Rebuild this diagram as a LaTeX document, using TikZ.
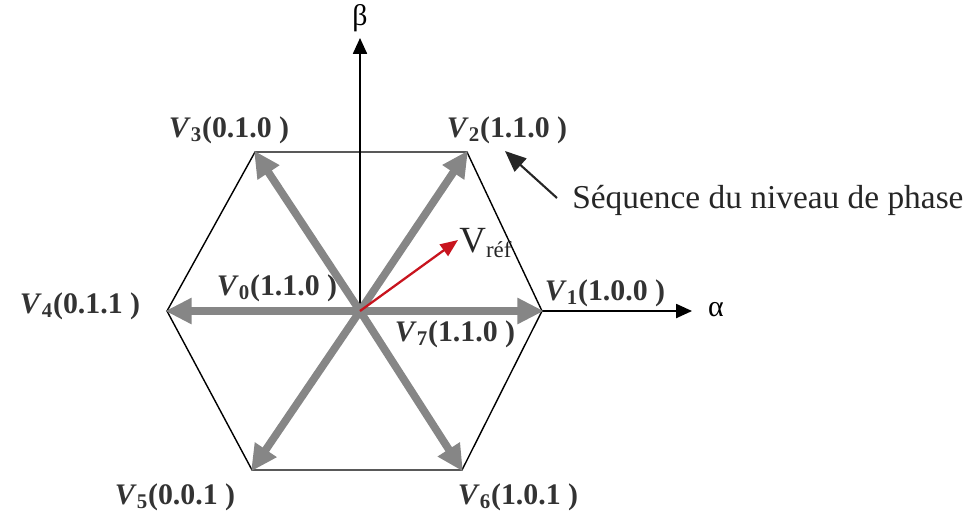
\documentclass[tikz,border=0pt]{standalone}
\usepackage{fontspec}
\setmainfont{Liberation Serif}
\usetikzlibrary{arrows.meta}
\tikzset{
  vlab/.style={inner sep=0pt, font=\fontsize{17}{19}\selectfont\bfseries, text=black!80},
  vec/.style={draw=gray!95, line width=4.4pt, -{Triangle[length=15pt,width=14pt]}, shorten >=-1pt},
  axis/.style={draw=black, line width=0.9pt, -{Triangle[length=9pt,width=8pt]}},
  hexedge/.style={draw=black, line width=0.8pt},
}
\newcommand{\lab}[2]{\textit{V}\textsubscript{#1}(#2 )}
\begin{document}
\begin{tikzpicture}[x=0.02cm,y=-0.02cm]
\useasboundingbox (0,0) rectangle (976,522);
% hexagon vertices
\coordinate (O) at (360,311);
\coordinate (P1) at (542,311);
\coordinate (P2) at (467,152);
\coordinate (P3) at (255,152);
\coordinate (P4) at (167,311);
\coordinate (P5) at (252,470);
\coordinate (P6) at (462,470);
\coordinate (Atip) at (692,311);
\coordinate (Btip) at (360,38);
\coordinate (R) at (458,240);
\coordinate (Ntail) at (557,198);
\coordinate (Ntip) at (505,151);
% hexagon
\draw[hexedge] (P1) -- (P2) -- (P3) -- (P4) -- (P5) -- (P6) -- cycle;
% axes
\draw[axis] (O) -- (Atip);
\draw[axis] (O) -- (Btip);
% space vectors
\foreach \p in {P1,P2,P3,P4,P5,P6} \draw[vec] (O) -- (\p);
% reference vector
\draw[draw={rgb,255:red,200;green,20;blue,30}, line width=1.3pt, -{Triangle[length=10pt,width=8pt]}] (O) -- (R);
% annotation arrow
\draw[black!85, line width=1.2pt, -{Triangle[length=12pt,width=10pt]}] (Ntail) -- (Ntip);
% labels
\node[font=\fontsize{17}{18}\selectfont] (beta) at (360,18) {β};
\node[font=\fontsize{17}{18}\selectfont] (alpha) at (716,310) {α};
\node[vlab] (l3) at (229,130) {\lab{3}{0.1.0}};
\node[vlab] (l2) at (507,130) {\lab{2}{1.1.0}};
\node[vlab] (l4) at (80,306) {\lab{4}{0.1.1}};
\node[vlab] (l0) at (277,288) {\lab{0}{1.1.0}};
\node[vlab] (l1) at (605,293) {\lab{1}{1.0.0}};
\node[vlab] (l7) at (455,334) {\lab{7}{1.1.0}};
\node[vlab] (l5) at (175,497) {\lab{5}{0.0.1}};
\node[vlab] (l6) at (518,497) {\lab{6}{1.0.1}};
\node[anchor=base west, inner sep=0pt, font=\fontsize{19}{20}\selectfont, text=black!85] (seq) at (572,208) {Séquence du niveau de phase};
\node[anchor=base west, inner sep=0pt, font=\fontsize{21}{22}\selectfont, text=black!85] (vref) at (459,252) {V\raisebox{-0.35ex}{\fontsize{13}{13}\selectfont réf}};
\end{tikzpicture}
\end{document}
